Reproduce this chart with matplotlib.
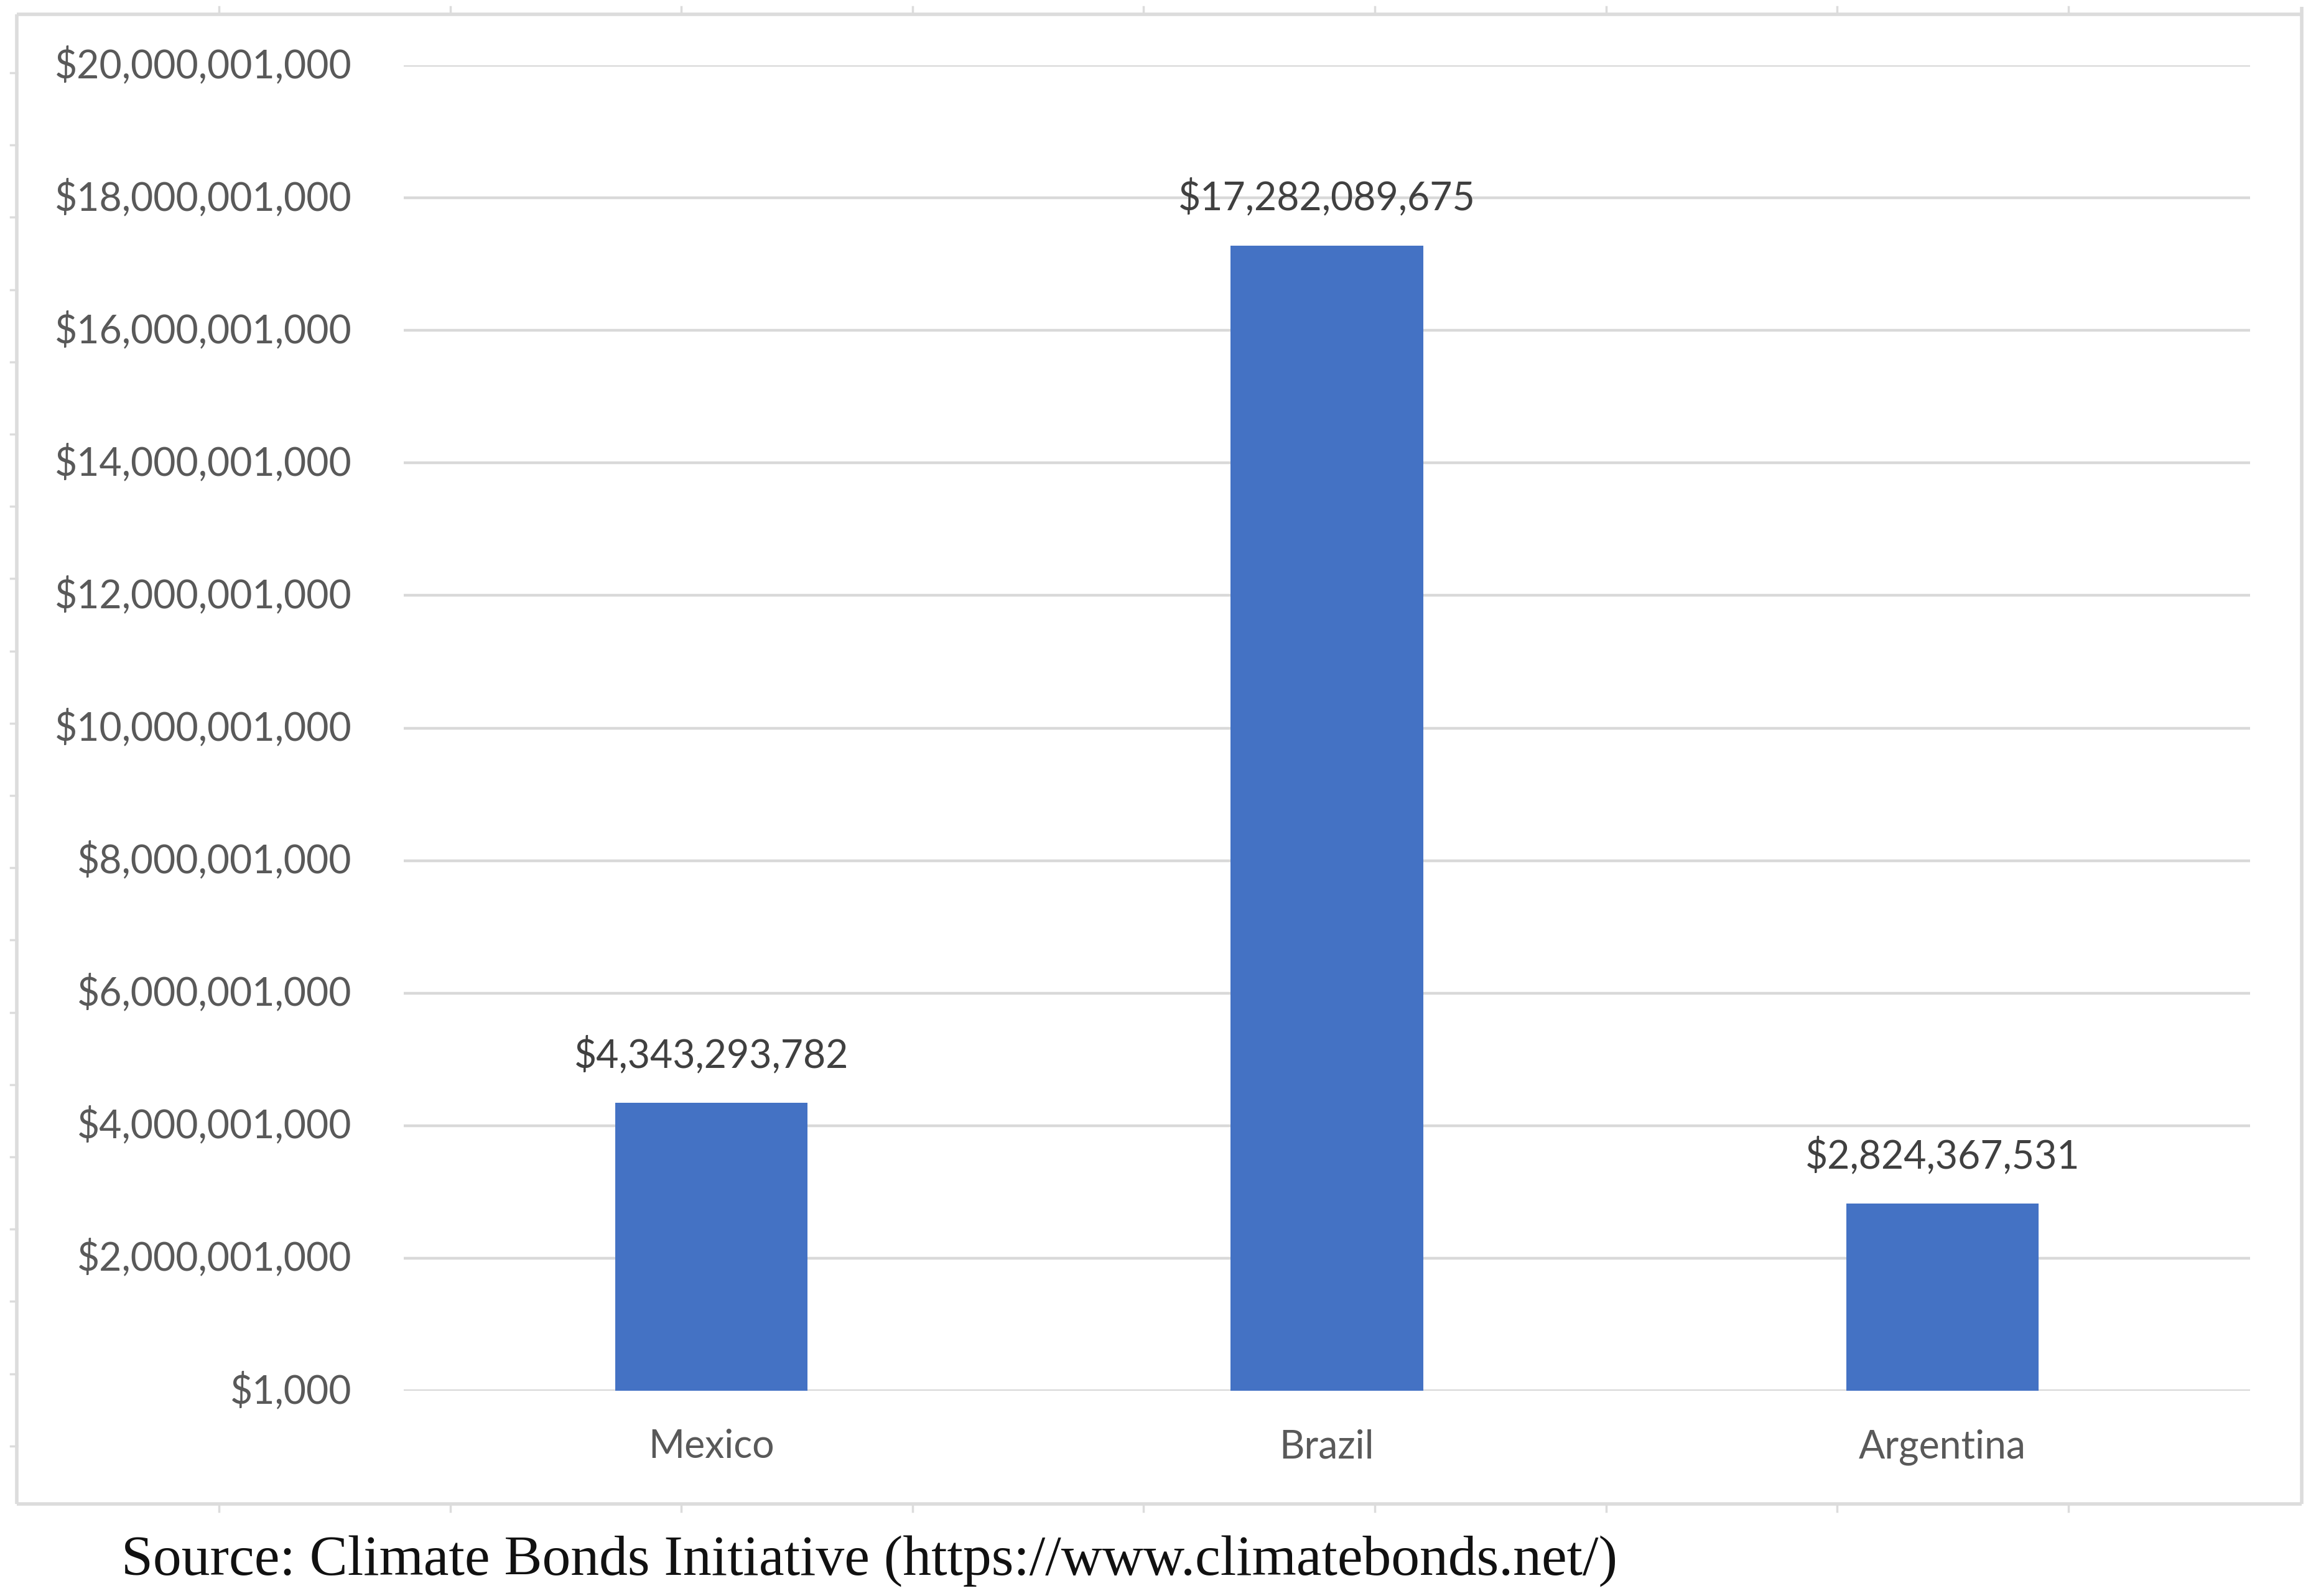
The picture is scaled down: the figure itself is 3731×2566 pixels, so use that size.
import matplotlib
matplotlib.use("Agg")
import matplotlib.pyplot as plt
from matplotlib.lines import Line2D

# ---- data ----
countries = ["Mexico", "Brazil", "Argentina"]
amounts = [4343293782, 17282089675, 2824367531]
amount_labels = ["$4,343,293,782", "$17,282,089,675", "$2,824,367,531"]
y_ticks = [1000, 2000001000, 4000001000, 6000001000, 8000001000, 10000001000,
           12000001000, 14000001000, 16000001000, 18000001000, 20000001000]
y_tick_labels = ["$1,000", "$2,000,001,000", "$4,000,001,000", "$6,000,001,000",
                 "$8,000,001,000", "$10,000,001,000", "$12,000,001,000",
                 "$14,000,001,000", "$16,000,001,000", "$18,000,001,000",
                 "$20,000,001,000"]
source_text = "Source: Climate Bonds Initiative (https://www.climatebonds.net/)"

W, H = 3731, 2566
DPI = 100
fig = plt.figure(figsize=(W / DPI, H / DPI), dpi=DPI)
fig.patch.set_facecolor("white")

def fx(px):
    return px / W

def fy(py):
    return 1 - py / H

# axes placement (pixel coords of plot area)
left, right, top, bottom = 649, 3617, 105, 2236
ax = fig.add_axes([fx(left), fy(bottom), fx(right) - fx(left), fy(top) - fy(bottom)])

x = list(range(len(countries)))
bars = ax.bar(x, amounts, width=0.313, color="#4472C4", zorder=3)

ax.set_xlim(-0.5, len(countries) - 0.5)
ax.set_ylim(y_ticks[0], y_ticks[-1])
ax.set_yticks(y_ticks)
ax.set_yticklabels(y_tick_labels, fontfamily="Lato", fontsize=45, color="#595959",
                   va="center")
ax.set_xticks(x)
ax.set_xticklabels(countries, fontfamily="Lato", fontsize=45, color="#595959")
ax.tick_params(axis="y", length=0, pad=60)
ax.tick_params(axis="x", length=0, pad=44)

ax.grid(axis="y", color="#d9d9d9", linewidth=3.2, zorder=0)
ax.set_axisbelow(True)
for s in ax.spines.values():
    s.set_visible(False)

for xi, val, lab in zip(x, amounts, amount_labels):
    ax.annotate(lab, xy=(xi, val), xytext=(0, 41), textcoords="offset points",
                ha="center", va="baseline", fontfamily="Lato", fontsize=45,
                color="#404040")

# outer chart-area border with ruler-like ticks
bc = "#dcdcdc"
blw = 4.0
bl, bt, br, bb = 27, 23, 3700, 2418
for (x0, y0, x1, y1) in [(bl, bt, br, bt), (bl, bb, br, bb), (bl, bt, bl, bb), (br, bt - 12, br, bb)]:
    fig.add_artist(Line2D([fx(x0), fx(x1)], [fy(y0), fy(y1)], color=bc, lw=blw,
                          solid_capstyle="butt"))
for k in range(9):
    xp = 352 + 371.6 * k
    fig.add_artist(Line2D([fx(xp), fx(xp)], [fy(bt), fy(bt - 12)], color=bc, lw=2.5))
    fig.add_artist(Line2D([fx(xp), fx(xp)], [fy(bb), fy(bb + 12)], color=bc, lw=2.5))
for k in range(20):
    yp = 117 + 116.2 * k
    fig.add_artist(Line2D([fx(bl), fx(bl - 10)], [fy(yp), fy(yp)], color=bc, lw=2.5))

fig.text(fx(195), fy(2532), source_text, fontfamily="Liberation Serif", fontsize=66,
         color="#111111", ha="left", va="baseline")

fig.savefig("out.png", dpi=DPI, facecolor="white")
